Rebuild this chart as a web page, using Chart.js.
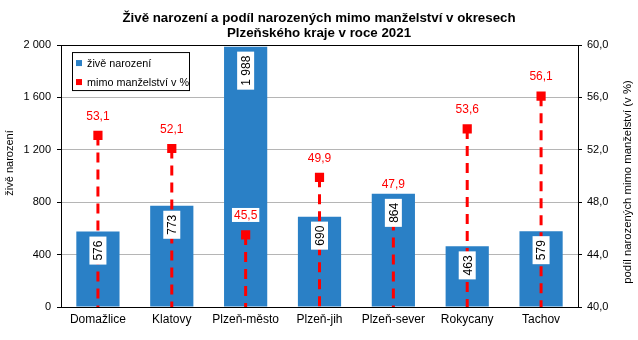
<!DOCTYPE html>
<html>
<head>
<meta charset="utf-8">
<script src="https://cdn.jsdelivr.net/npm/chart.js@4.4.1/dist/chart.umd.min.js"></script>
<style>
  html, body { margin: 0; padding: 0; background: #fff; }
  #wrap { width: 638px; height: 340px; }
</style>
</head>
<body>
<div id="wrap"><canvas id="graf"></canvas></div>
<script>
const okresy = ['Domažlice', 'Klatovy', 'Plzeň-město', 'Plzeň-jih', 'Plzeň-sever', 'Rokycany', 'Tachov'];
const ziveNarozeni = [576, 773, 1988, 690, 864, 463, 579];
const mimoManzelstvi = [53.1, 52.1, 45.5, 49.9, 47.9, 53.6, 56.1];
const nazvyRad = ['živě narození', 'mimo manželství v %'];

const MODRA = '#2a80c6';
const CERVENA = '#ff0000';
const FONT = '"Liberation Sans", Arial, sans-serif';

const tisice = v => String(v).replace(/\B(?=(\d{3})+(?!\d))/g, ' ');
const procenta = v => v.toFixed(1).replace('.', ',');

// svislé čárkované čáry od bodu dolů k ose
const dropLines = {
  id: 'dropLines',
  beforeDatasetDraw(chart, args) {
    if (args.index !== 1) return;
    const ctx = chart.ctx;
    const bottom = chart.chartArea.bottom;
    ctx.save();
    ctx.strokeStyle = CERVENA;
    ctx.lineWidth = 3;
    ctx.setLineDash([10, 7]);
    args.meta.data.forEach(p => {
      ctx.beginPath();
      ctx.moveTo(p.x, p.y);
      ctx.lineTo(p.x, bottom);
      ctx.stroke();
    });
    ctx.restore();
  }
};

// popisky hodnot
const popisky = {
  id: 'popisky',
  afterDatasetsDraw(chart) {
    const ctx = chart.ctx;
    ctx.save();
    ctx.font = '12px ' + FONT;
    ctx.textAlign = 'center';
    ctx.textBaseline = 'middle';

    chart.getDatasetMeta(0).data.forEach((bar, i) => {
      const txt = tisice(ziveNarozeni[i]);
      const w = ctx.measureText(txt).width + 8;
      ctx.save();
      ctx.translate(bar.x, bar.y + 5 + w / 2);
      ctx.rotate(-Math.PI / 2);
      ctx.fillStyle = '#fff';
      ctx.fillRect(-w / 2, -8.5, w, 17);
      ctx.fillStyle = '#000';
      ctx.fillText(txt, 0, 1);
      ctx.restore();
    });

    chart.getDatasetMeta(1).data.forEach((p, i) => {
      const txt = procenta(mimoManzelstvi[i]);
      const w = ctx.measureText(txt).width + 4;
      const y = p.y - 20;
      ctx.fillStyle = '#fff';
      ctx.fillRect(p.x - w / 2, y - 7, w, 14);
      ctx.fillStyle = CERVENA;
      ctx.fillText(txt, p.x, y + 1);
    });
    ctx.restore();
  }
};

// legenda v rámečku uvnitř grafu + popisy os
const ramecek = {
  id: 'ramecek',
  afterDraw(chart) {
    const ctx = chart.ctx;
    const a = chart.chartArea;
    const x = a.left + 11, y = a.top + 7;
    ctx.save();
    ctx.fillStyle = '#fff';
    ctx.fillRect(x, y, 117, 38);
    ctx.strokeStyle = '#000';
    ctx.lineWidth = 1;
    ctx.strokeRect(x + 0.5, y + 0.5, 117, 38);
    ctx.font = '10.8px ' + FONT;
    ctx.textBaseline = 'middle';
    ctx.textAlign = 'left';
    chart.data.datasets.forEach((ds, i) => {
      const ly = y + 11 + i * 19;
      ctx.fillStyle = ds.backgroundColor;
      ctx.fillRect(x + 4, ly - 3, 6, 6);
      ctx.fillStyle = '#000';
      ctx.fillText(ds.label, x + 15, ly + 1);
    });

    ctx.font = '11px ' + FONT;
    ctx.textAlign = 'center';
    ctx.save();
    ctx.translate(10, 163);
    ctx.rotate(-Math.PI / 2);
    ctx.fillText('živě narození', 0, 0);
    ctx.restore();

    ctx.font = '11.3px ' + FONT;
    ctx.translate(628, 182);
    ctx.rotate(-Math.PI / 2);
    ctx.fillText('podíl narozených mimo manželství (v %)', 0, 0);
    ctx.restore();
  }
};

Chart.defaults.font.family = FONT;
Chart.defaults.color = '#000';

new Chart(document.getElementById('graf'), {
  type: 'bar',
  data: {
    labels: okresy,
    datasets: [
      {
        label: nazvyRad[0],
        data: ziveNarozeni,
        backgroundColor: MODRA,
        yAxisID: 'y',
        categoryPercentage: 1,
        barPercentage: 0.585,
        order: 2
      },
      {
        type: 'line',
        label: nazvyRad[1],
        data: mimoManzelstvi,
        yAxisID: 'y1',
        showLine: false,
        pointStyle: 'rect',
        pointRadius: 6.5,
        pointBackgroundColor: CERVENA,
        pointBorderWidth: 0,
        backgroundColor: CERVENA,
        borderColor: CERVENA,
        order: 1
      }
    ]
  },
  options: {
    responsive: true,
    maintainAspectRatio: false,
    animation: false,
    layout: { padding: 0 },
    plugins: {
      legend: { display: false },
      tooltip: { enabled: false },
      title: {
        display: true,
        text: ['Živě narození a podíl narozených mimo manželství v okresech', 'Plzeňského kraje v roce 2021'],
        font: { size: 13.3, weight: 'bold', lineHeight: 1.13 },
        color: '#000',
        padding: { top: 11, bottom: 4 }
      }
    },
    scales: {
      x: {
        grid: { display: false, drawTicks: false },
        border: { display: true, color: '#000' },
        ticks: { font: { size: 12 }, padding: 5, maxRotation: 0 },
        afterFit: s => { s.height = 33; }
      },
      y: {
        position: 'left',
        min: 0,
        max: 2000,
        ticks: { stepSize: 400, font: { size: 11 }, padding: 6, callback: v => tisice(v) },
        grid: {
          color: c => (c.tick && c.tick.value === 2000 ? '#000' : '#b5b5b5'),
          tickColor: '#000',
          tickLength: 4
        },
        border: { color: '#000' },
        afterFit: s => { s.width = 61; }
      },
      y1: {
        position: 'right',
        min: 40,
        max: 60,
        ticks: { stepSize: 4, font: { size: 11 }, padding: 5, callback: v => procenta(v) },
        grid: { drawOnChartArea: false, tickColor: '#000', tickLength: 4 },
        border: { color: '#000' },
        afterFit: s => { s.width = 60; }
      }
    }
  },
  plugins: [dropLines, popisky, ramecek]
});
</script>
</body>
</html>
